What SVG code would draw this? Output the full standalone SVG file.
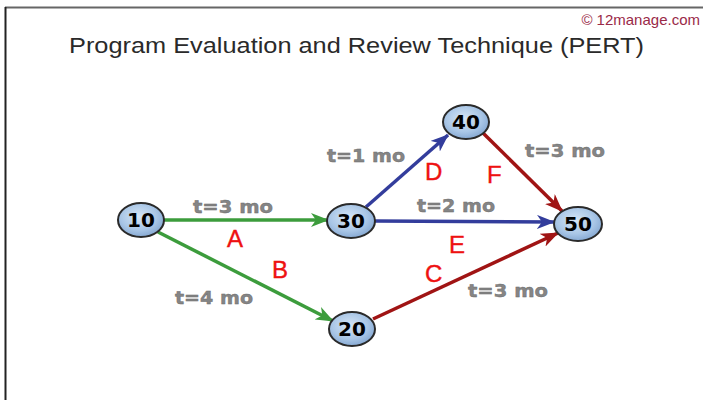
<svg xmlns="http://www.w3.org/2000/svg" width="703" height="400" viewBox="0 0 703 400">
<defs>
<radialGradient id="nodeFill" cx="45%" cy="40%" r="65%">
<stop offset="0" stop-color="#d6e6f6"/>
<stop offset="0.6" stop-color="#a9c6e6"/>
<stop offset="1" stop-color="#7fa3cf"/>
</radialGradient>
<marker id="arrGreen" markerUnits="userSpaceOnUse" markerWidth="18" markerHeight="14" refX="17" refY="7" orient="auto"><path d="M0,0 L18,7 L0,14 L5,7 z" fill="#3c9c3c"/></marker>
<marker id="arrBlue" markerUnits="userSpaceOnUse" markerWidth="18" markerHeight="14" refX="17" refY="7" orient="auto"><path d="M0,0 L18,7 L0,14 L5,7 z" fill="#333d9c"/></marker>
<marker id="arrRed" markerUnits="userSpaceOnUse" markerWidth="18" markerHeight="14" refX="17" refY="7" orient="auto"><path d="M0,0 L18,7 L0,14 L5,7 z" fill="#a01414"/></marker>
</defs>
<style>
.node ellipse{fill:url(#nodeFill);stroke:#2a2a2a;stroke-width:2}
.node text{font-family:"DejaVu Sans",Verdana,sans-serif;font-weight:bold;font-size:20px;fill:#000;text-anchor:middle}
.edge{fill:none;stroke-width:3.5}
.g{stroke:#3c9c3c;marker-end:url(#arrGreen)}
.b{stroke:#333d9c;marker-end:url(#arrBlue)}
.r{stroke:#a01414;marker-end:url(#arrRed)}
.t{font-family:"DejaVu Sans",Verdana,sans-serif;font-weight:bold;font-size:18px;fill:#858585;stroke:#6a6a6a;stroke-width:0.4}
.l{font-family:"Liberation Sans",Arial,sans-serif;font-size:24px;fill:#ee1111;stroke:#ee1111;stroke-width:0.4}
</style>
<rect x="0" y="0" width="703" height="400" fill="#ffffff"/>
<line x1="5" y1="7.5" x2="703" y2="7.5" stroke="#666" stroke-width="2"/>
<line x1="5.5" y1="7" x2="5.5" y2="400" stroke="#222" stroke-width="2"/>
<text x="700" y="25" text-anchor="end" font-family="Liberation Sans,Arial,sans-serif" font-size="15" fill="#9a2a48">© 12manage.com</text>
<text x="69" y="53" font-family="Liberation Sans,Arial,sans-serif" font-size="22" fill="#2a2a2a" textLength="575" lengthAdjust="spacingAndGlyphs">Program Evaluation and Review Technique (PERT)</text>
<g id="connectors">
<line class="edge g" x1="164" y1="220" x2="328" y2="220"/>
<line class="edge g" x1="158" y1="232" x2="333" y2="321"/>
<line class="edge b" x1="366" y1="207" x2="448" y2="135"/>
<line class="edge b" x1="375" y1="221" x2="554" y2="222"/>
<line class="edge r" x1="483" y1="133" x2="562" y2="211"/>
<line class="edge r" x1="373" y1="319" x2="558" y2="233"/>
</g>
<g id="labels">
<text class="t" x="193" y="213" textLength="80" lengthAdjust="spacingAndGlyphs">t=3 mo</text>
<text class="t" x="175" y="304" textLength="78" lengthAdjust="spacingAndGlyphs">t=4 mo</text>
<text class="t" x="327" y="162" textLength="78" lengthAdjust="spacingAndGlyphs">t=1 mo</text>
<text class="t" x="525" y="157" textLength="80" lengthAdjust="spacingAndGlyphs">t=3 mo</text>
<text class="t" x="417" y="212" textLength="78" lengthAdjust="spacingAndGlyphs">t=2 mo</text>
<text class="t" x="468" y="297" textLength="80" lengthAdjust="spacingAndGlyphs">t=3 mo</text>
<text class="l" x="227" y="247">A</text>
<text class="l" x="272" y="278">B</text>
<text class="l" x="425" y="282">C</text>
<text class="l" x="425" y="180">D</text>
<text class="l" x="449" y="253">E</text>
<text class="l" x="487" y="183">F</text>
</g>
<g id="n10" class="node"><ellipse cx="141" cy="220" rx="23" ry="17"/><text x="141" y="227">10</text></g>
<g id="n30" class="node"><ellipse cx="351" cy="221" rx="24" ry="17"/><text x="351" y="228">30</text></g>
<g id="n40" class="node"><ellipse cx="466" cy="122" rx="23" ry="17"/><text x="466" y="129">40</text></g>
<g id="n50" class="node"><ellipse cx="578" cy="224" rx="24" ry="17"/><text x="578" y="231">50</text></g>
<g id="n20" class="node"><ellipse cx="352" cy="329" rx="23" ry="17"/><text x="352" y="336">20</text></g>
</svg>
